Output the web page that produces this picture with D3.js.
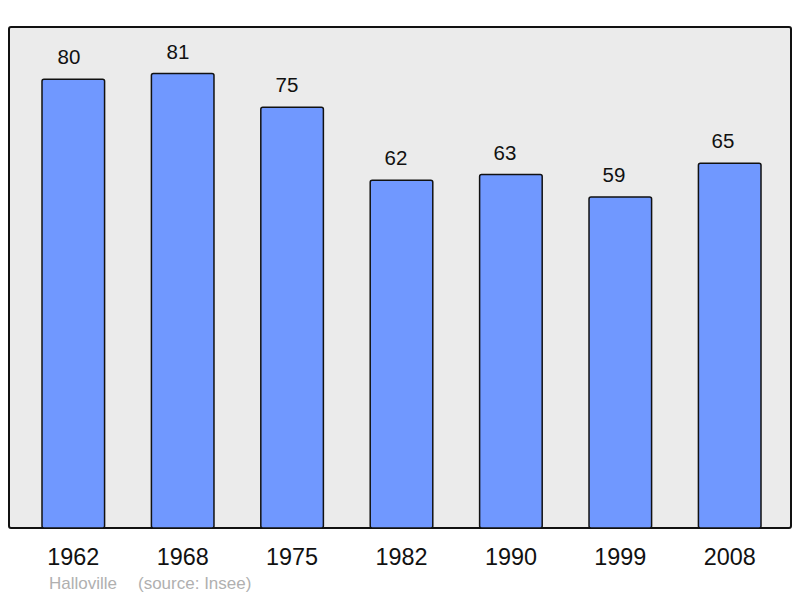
<!DOCTYPE html>
<html><head><meta charset="utf-8">
<script src="https://cdn.jsdelivr.net/npm/d3@7"></script>
<style>body{margin:0;background:#fff}svg{display:block}</style>
</head><body><svg id="c" width="800" height="598"></svg>
<script>
const years = ["1962","1968","1975","1982","1990","1999","2008"];
const population = [80,81,75,62,63,59,65];
const townName = "Halloville";
const sourceText = "(source: Insee)";

const svg = d3.select("#c");
const frame = {x0: 9, y0: 27, x1: 791, y1: 528};
svg.append("rect").attr("x", frame.x0).attr("y", frame.y0)
  .attr("width", frame.x1-frame.x0).attr("height", frame.y1-frame.y0)
  .attr("rx", 2).attr("fill", "#ebebeb").attr("stroke", "#111").attr("stroke-width", 2);

const x = d3.scaleBand().domain(years).range([42, 761]).paddingInner(0.428).paddingOuter(0);
const xLabel = d3.scalePoint().domain(years).range([69, 723]);
const y = d3.scaleLinear().domain([0, 89.3]).range([frame.y1, frame.y0]);

svg.selectAll("rect.bar").data(population).join("rect").attr("class","bar")
  .attr("x", (d,i)=>x(years[i])).attr("y", d=>y(d))
  .attr("width", x.bandwidth()).attr("height", d=>frame.y1-y(d))
  .attr("rx", 2).attr("fill", "#7098ff").attr("stroke", "#111").attr("stroke-width", 1.5);

svg.selectAll("text.val").data(population).join("text").attr("class","val")
  .attr("x", (d,i)=>xLabel(years[i])).attr("y", d=>y(d)-15)
  .attr("text-anchor","middle").attr("font-family","Liberation Sans, Arial, sans-serif")
  .attr("font-size", 20.5).attr("fill","#111").text(d=>d);

const xAxis = d3.axisBottom(x).tickSize(0).tickPadding(0);
const ax = svg.append("g").attr("transform", `translate(0,${frame.y1})`).call(xAxis);
ax.select(".domain").remove();
ax.selectAll("text").attr("y", 37).attr("dy", null)
  .attr("font-family","Liberation Sans, Arial, sans-serif").attr("font-size", 23.4).attr("fill","#111");

svg.append("text").attr("x", 49).attr("y", 589).attr("font-family","Liberation Sans, Arial, sans-serif")
  .attr("font-size", 17).attr("fill","#b0b0b0").text(townName);
svg.append("text").attr("x", 138).attr("y", 589).attr("font-family","Liberation Sans, Arial, sans-serif")
  .attr("font-size", 17).attr("fill","#b0b0b0").text(sourceText);
</script></body></html>
